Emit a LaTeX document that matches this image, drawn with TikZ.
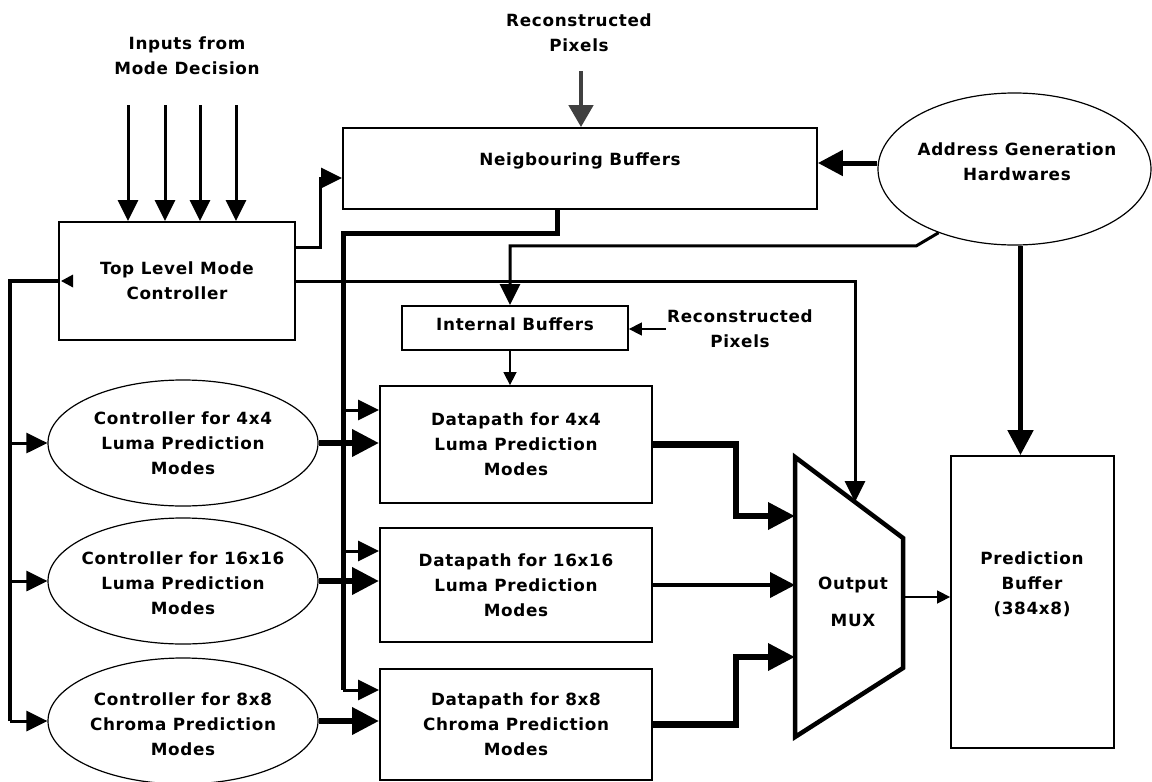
\documentclass[tikz,border=0pt]{standalone}
\usepackage{fontspec}
\setmainfont{DejaVu Sans}[LetterSpace=4]
\usetikzlibrary{arrows.meta,shapes.geometric}
\definecolor{pixgray}{HTML}{404040}
\begin{document}
\begin{tikzpicture}[x=1pt,y=-1pt,
  lbl/.style={font=\fontsize{16.8}{25}\selectfont\bfseries, align=center, inner sep=1pt},
  blk/.style={draw, line width=1.8pt, rectangle, inner sep=0pt},
  oval/.style={draw, line width=1.2pt, ellipse, inner sep=0pt},
  sarrow/.style={line width=1.5pt, -{Triangle[length=13pt,width=13pt]}},
  marrow/.style={line width=3pt, -{Triangle[length=21pt,width=20pt]}},
  barrow/.style={line width=5pt, -{Triangle[length=25pt,width=25pt]}},
  farrow/.style={line width=6.5pt, -{Triangle[length=27pt,width=26pt]}},
]
\useasboundingbox (0,0) rectangle (1152,782);
\fill[white] (0,0) rectangle (1152,782);

% ---------- blocks ----------
\node[blk, lbl, minimum width=236pt, minimum height=118pt] (tl) at (177,281) {Top Level Mode\\Controller};
\node[lbl] (inp) at (187,56) {Inputs from\\Mode Decision};

\node[blk, minimum width=474pt, minimum height=81pt] (nb) at (580,168.5) {};
\node[lbl] (nbt) at (580,161) {Neigbouring Buffers};
\node[lbl] (rp1) at (579,33) {Reconstructed\\Pixels};

\node[oval, minimum width=273pt, minimum height=152pt] (ag) at (1014.5,169) {};
\node[lbl] (agt) at (1017,161.5) {Address Generation\\Hardwares};

\node[blk, minimum width=226pt, minimum height=44pt] (ib) at (515,328) {};
\node[lbl] (ibt) at (515,324) {Internal Buffers};
\node[lbl] (rp2) at (740,329) {Reconstructed\\Pixels};

\node[blk, lbl, minimum width=272pt, minimum height=117pt] (dp1) at (516,444.5) {Datapath for 4x4\\Luma Prediction\\Modes};
\node[blk, lbl, minimum width=272pt, minimum height=114pt] (dp2) at (516,585) {Datapath for 16x16\\Luma Prediction\\Modes};
\node[blk, lbl, minimum width=272pt, minimum height=111pt] (dp3) at (516,724.5) {Datapath for 8x8\\Chroma Prediction\\Modes};

\node[oval, minimum width=270pt, minimum height=126pt] (c1) at (183,443) {};
\node[lbl] (c1t) at (183,443) {Controller for 4x4\\Luma Prediction\\Modes};
\node[oval, minimum width=270pt, minimum height=126pt] (c2) at (183,581) {};
\node[lbl] (c2t) at (183,583) {Controller for 16x16\\Luma Prediction\\Modes};
\node[oval, minimum width=270pt, minimum height=126pt] (c3) at (183,721) {};
\node[lbl] (c3t) at (183,724) {Controller for 8x8\\Chroma Prediction\\Modes};

\node[blk, minimum width=163pt, minimum height=292pt] (pb) at (1032.5,602) {};
\node[lbl] (pbt) at (1032,584) {Prediction\\Buffer\\(384x8)};

% output multiplexer
\coordinate (m1) at (795,457);
\coordinate (m2) at (903,538);
\coordinate (m3) at (903,668);
\coordinate (m4) at (795,737);
\draw[line width=4.5pt, line join=miter] (m1) -- (m2) -- (m3) -- (m4) -- cycle;
\node[lbl] (mux) at (853,601.5) {Output\\[12pt]MUX};

% ---------- connectors ----------
% mode decision inputs
\foreach \xx [count=\i] in {128,165,200,236} {
  \coordinate (in\i) at (\xx,105);
  \draw[marrow] (in\i) -- (in\i |- tl.north);
}

% reconstructed pixels into the neighbouring buffers
\coordinate (rpin) at (581,71);
\draw[line width=4.5pt, pixgray, -{Triangle[length=22pt,width=24pt]}] (rpin) -- (rpin |- nb.north);

% top level controller outputs
\draw[marrow] ([yshift=34pt]tl.east) -- ++(25,0) |- ([yshift=-9.5pt]nb.west);
\coordinate (mtop) at (855,502);
\draw[marrow] (tl.east) -| (mtop);

% feedback bus on the left
\coordinate (lbx) at (10,0);
\draw[line width=3.5pt, line cap=square] (c3.west -| lbx) |- (tl.west);
\fill ([xshift=3pt]tl.west) -- ++(12,-6.5) -- ++(0,13) -- cycle;
\draw[marrow] (c1.west -| lbx) -- (c1.west);
\draw[marrow] (c2.west -| lbx) -- (c2.west);
\draw[marrow] (c3.west -| lbx) -- (c3.west);

% controllers to datapaths
\draw[farrow] (c1.east) -- (c1.east -| dp1.west);
\draw[farrow] (c2.east) -- (c2.east -| dp2.west);
\draw[farrow] (c3.east) -- (c3.east -| dp3.west);

% neighbouring buffers bus
\coordinate (b1) at (343,410);
\coordinate (b2) at (343,551);
\coordinate (b3) at (343,690);
\draw[line width=5pt, line cap=square] ([xshift=-23pt]nb.south) -- ++(0,24) -| (b3);
\draw[marrow] (b1) -- (b1 -| dp1.west);
\draw[marrow] (b2) -- (b2 -| dp2.west);
\draw[marrow] (b3) -- (b3 -| dp3.west);

% address generation outputs
\coordinate (agw) at ([yshift=6pt]ag.west);
\draw[barrow] (agw) -- (agw -| nb.east);
\coordinate (ags) at ([xshift=6pt]ag.south);
\draw[barrow] (ags) -- (ags |- pb.north);
\coordinate (ibn) at ([xshift=-5pt]ib.north);
\draw[marrow] (ag.220) -- ++(-22,13) -| (ibn);

% internal buffers
\draw[sarrow] (rp2.west) -- (rp2.west -| ib.east);
\coordinate (ibs) at ([xshift=-5pt]ib.south);
\draw[sarrow] (ibs) -- (ibs |- dp1.north);

% datapaths into the multiplexer
\coordinate (mi1) at (795,516);
\coordinate (mi2) at (795,585);
\coordinate (mi3) at (795,657);
\draw[farrow] (dp1.east) -- ++(83,0) |- (mi1);
\draw[barrow, line width=4pt] (dp2.east) -- (mi2);
\draw[farrow] (dp3.east) -- ++(83,0) |- (mi3);

% multiplexer to prediction buffer
\coordinate (mo) at (903,597);
\draw[sarrow] (mo) -- (mo -| pb.west);
\end{tikzpicture}
\end{document}
